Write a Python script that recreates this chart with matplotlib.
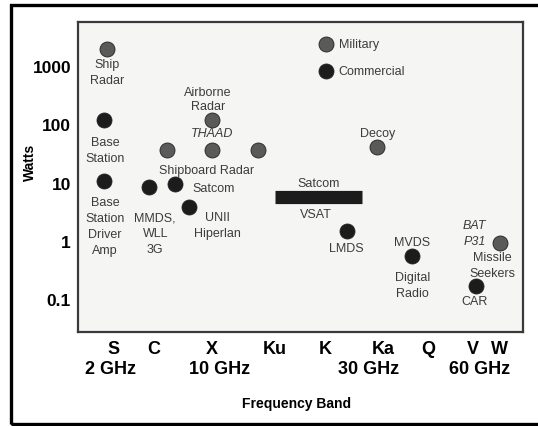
import numpy as np
import matplotlib.pyplot as plt
from matplotlib.patches import Rectangle

plt.rcParams['font.family'] = ['Liberation Sans', 'DejaVu Sans']

# frequency bands along the x axis
bands = ["S", "C", "X", "Ku", "K", "Ka", "Q", "V", "W"]
band_pos = [0.79, 1.71, 3.0, 4.43, 5.55, 6.85, 7.87, 8.88, 9.48]
ghz_labels = ["2 GHz", "10 GHz", "30 GHz", "60 GHz"]
ghz_pos = [0.72, 3.19, 6.52, 9.03]

yticks = [0.1, 1, 10, 100, 1000]
ytick_labels = ["0.1", "1", "10", "100", "1000"]

# systems: position on band axis, power (W), military (M) / commercial (C)
sys_x = [0.65, 0.58, 0.58, 1.60, 2.18, 2.49, 2.0, 3.01, 3.01, 4.04, 6.72, 6.04, 7.51, 9.48, 8.94]
sys_watts = [2000, 120, 10.6, 8.4, 9.5, 3.8, 36, 120, 36, 36, 41, 1.5, 0.55, 0.92, 0.167]
sys_type = ["M", "C", "C", "C", "C", "C", "M", "M", "M", "M", "M", "C", "C", "M", "C"]

# Satcom VSAT spans a range of bands
vsat_x = [4.43, 6.38]
vsat_watts = 5.7

legend_x = 5.57
legend_watts = [2400, 830]
legend_names = ["Military", "Commercial"]

colors = {"M": "#5a5a5a", "C": "#1c1c1c"}
txt_col = "#3c3c3c"

# label text, point index, offset px (dx, dy), ha, style
labels = [
    ("Ship\nRadar", 0, 0, -23, "center", "normal"),
    ("Base\nStation", 1, 1, -30, "center", "normal"),
    ("Base\nStation\nDriver\nAmp", 2, 1, -45, "center", "normal"),
    ("MMDS,\nWLL\n3G", 3, 6, -46, "center", "normal"),
    ("Satcom", 4, 17, -4, "left", "normal"),
    ("UNII\nHiperlan", 5, 29, -18, "center", "normal"),
    ("Airborne\nRadar", 7, -4, 21, "center", "normal"),
    ("THAAD", 8, 0, 17, "center", "italic"),
    ("Shipboard Radar", 8, -5, -20, "center", "normal"),
    ("Decoy", 10, 1, 14, "center", "normal"),
    ("LMDS", 11, 0, -17, "center", "normal"),
    ("MVDS", 12, 0, 14, "center", "normal"),
    ("Digital\nRadio", 12, 0, -29, "center", "normal"),
    ("BAT\nP31", 13, -25, 10, "center", "italic"),
    ("Missile\nSeekers", 13, -7, -22, "center", "normal"),
    ("CAR", 14, -1, -15, "center", "normal"),
]

fig = plt.figure(figsize=(5.38, 4.27), dpi=100)
ax = fig.add_axes([0.145, 0.22, 0.827, 0.726])
ax.set_facecolor("#f5f5f4")
ax.set_yscale("log")
ax.set_xlim(0, 10)
ax.set_ylim(0.0271, 5750)

for t in ["M", "C"]:
    xs = [x for x, k in zip(sys_x, sys_type) if k == t]
    ys = [y for y, k in zip(sys_watts, sys_type) if k == t]
    ax.plot(xs, ys, "o", ms=10.8, color=colors[t], mec="#222222", mew=0.6, ls="none")

ax.plot(vsat_x, [vsat_watts, vsat_watts], color="#1c1c1c", lw=9.5, solid_capstyle="butt")
vsat_mid = sum(vsat_x) / 2
ax.annotate("Satcom", (vsat_mid, vsat_watts), xytext=(0, 14), textcoords="offset pixels",
            ha="center", va="center", fontsize=9, color=txt_col)
ax.annotate("VSAT", (vsat_mid, vsat_watts), xytext=(-3, -17), textcoords="offset pixels",
            ha="center", va="center", fontsize=9, color=txt_col)

for text, i, dx, dy, ha, style in labels:
    ax.annotate(text, (sys_x[i], sys_watts[i]), xytext=(dx, dy), textcoords="offset pixels",
                ha=ha, va="center", fontsize=9, color=txt_col, style=style,
                multialignment="center", linespacing=1.25 if "Airborne" in text else 1.45)

# legend drawn inside the plot
for name, y, k in zip(legend_names, legend_watts, ["M", "C"]):
    ax.plot(legend_x, y, "o", ms=10.8, color=colors[k], mec="#222222", mew=0.6)
    ax.annotate(name, (legend_x, y), xytext=(13, 0), textcoords="offset pixels",
                ha="left", va="center", fontsize=9, color=txt_col)

ax.set_xticks(band_pos)
ax.set_xticklabels(bands, fontsize=13, fontweight="bold")
ax.set_yticks(yticks)
ax.set_yticklabels(ytick_labels, fontsize=12.5, fontweight="bold")
ax.yaxis.set_minor_locator(plt.NullLocator())
ax.tick_params(axis="x", length=0, pad=6)
ax.tick_params(axis="y", length=0, pad=5)

for g, x in zip(ghz_labels, ghz_pos):
    ax.annotate(g, (x, 0), xycoords=("data", "axes fraction"), xytext=(0, -36),
                textcoords="offset pixels", ha="center", va="center",
                fontsize=13, fontweight="bold")

for s in ax.spines.values():
    s.set_color("#3a3a3a")
    s.set_linewidth(1.6)

fig.text(30 / 538, 1 - 162 / 427, "Watts", rotation=90, ha="center", va="center",
         fontsize=10, fontweight="bold")
fig.text(297 / 538, 1 - 404 / 427, "Frequency Band", ha="center", va="center",
         fontsize=10, fontweight="bold")

# outer frame, cut off at the right edge like the original
fig.patches.append(Rectangle((11 / 538, 1 - 425 / 427), 1.1, 419 / 427, transform=fig.transFigure,
                             fill=False, lw=2.4, ec="black", clip_on=False))

fig.savefig("out.png", dpi=100)
